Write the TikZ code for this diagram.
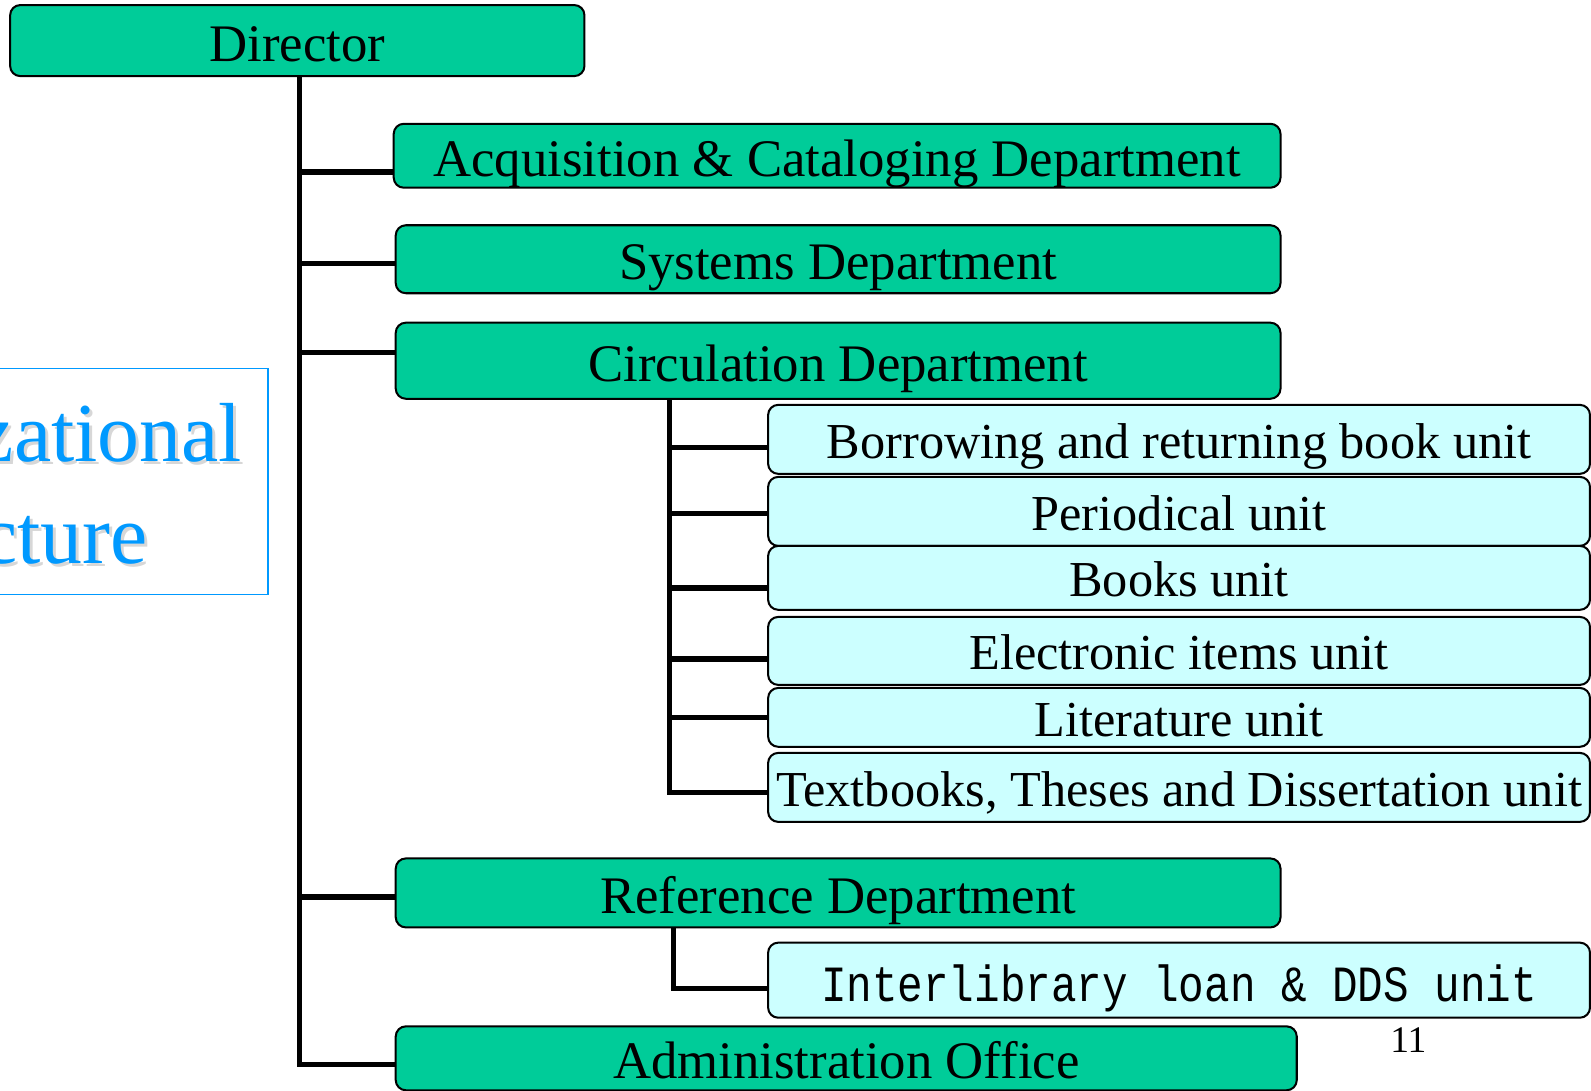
\documentclass[tikz,border=0pt]{standalone}
\usepackage{fontspec}
\setmainfont{Liberation Serif}
\newfontfamily\unitmono[FakeStretch=0.84]{Liberation Mono}
\definecolor{deptgreen}{RGB}{0,204,153}
\definecolor{unitcyan}{RGB}{204,255,255}
\definecolor{titleblue}{RGB}{0,153,255}
\tikzset{
  dept/.style={draw, line width=1pt, rounded corners=5pt, fill=deptgreen, inner sep=2pt,
    text height=20.3pt, text depth=0pt, font=\fontsize{26}{30}\selectfont},
  unit/.style={draw, line width=1pt, rounded corners=5pt, fill=unitcyan, inner sep=2pt,
    minimum width=405pt, text height=18.8pt, text depth=0pt, font=\fontsize{24.8}{28}\selectfont},
  link/.style={line width=2.5pt}
}
\begin{document}
\begin{tikzpicture}[x=0.5pt,y=-0.5pt]
        \useasboundingbox (0,0) rectangle (1568,1075);
        \clip (0,0) rectangle (1568,1075);

        \draw[titleblue, line width=0.8pt] (-20,363) rectangle (264,586);
        \node[text=black!45, opacity=0.35, align=center, font=\fontsize{41.3}{50}\selectfont] at (-3,480) {Organizational\\Structure};
        \node[text=titleblue, align=center, font=\fontsize{41.3}{50}\selectfont] (title) at (-6,477) {Organizational\\Structure};

        \begin{scope}[every node/.style={dept}]
          \node[minimum width=283pt, minimum height=35pt] (dir)  at (293,40)    {Director};
          \node[minimum width=437pt, minimum height=31.5pt] (acq) at (825,153.5) {Acquisition \& Cataloging Department};
          \node[minimum width=436pt, minimum height=33.5pt] (sys) at (826,255.5) {Systems Department};
          \node[minimum width=436pt, minimum height=37.5pt] (circ) at (826,355.5) {Circulation Department};
          \node[minimum width=436pt, minimum height=34pt] (ref)  at (826,880)   {Reference Department};
          \node[minimum width=444pt, minimum height=31.5pt] (adm) at (834,1043)  {Administration Office};
        \end{scope}

        \begin{scope}[every node/.style={unit}]
          \node[minimum height=34pt]   (borrow) at (1162,433)   {Borrowing and returning book unit};
          \node[minimum height=34pt]   (period) at (1162,504)   {Periodical unit};
          \node[minimum height=31.5pt] (books)  at (1162,569.5) {Books unit};
          \node[minimum height=33.5pt] (elec)   at (1162,641.5) {Electronic items unit};
          \node[minimum height=29pt]   (lit)    at (1162,707)   {Literature unit};
          \node[minimum height=34pt]   (tdu)    at (1162,776)   {Textbooks, Theses and Dissertation unit};
          \node[minimum height=37pt, text height=21pt, font=\unitmono\fontsize{25}{28}\selectfont] (inter) at (1162,966) {Interlibrary loan \& DDS unit};
        \end{scope}

        \node[font=\fontsize{18.5}{20}\selectfont] (pageno) at (1388,1025) {11};

        \coordinate (cj) at ([xshift=135.5pt]circ.south west);
        \coordinate (rj) at ([xshift=137.5pt]ref.south west);

        \foreach \d/\s in {acq/-8pt, sys/-2pt, circ/4pt, ref/-2pt, adm/-3pt}
          \draw[link] ([yshift=\s]\d.west) -| ([xshift=1pt]dir.south);
        \foreach \u/\s in {borrow/-4pt, period/-1pt, books/-5pt, elec/-4pt, lit/0pt, tdu/-2.5pt}
          \draw[link] ([yshift=\s]\u.west) -| (cj);
        \draw[link] ([yshift=-4pt]inter.west) -| (rj);

      \end{tikzpicture}
\end{document}
